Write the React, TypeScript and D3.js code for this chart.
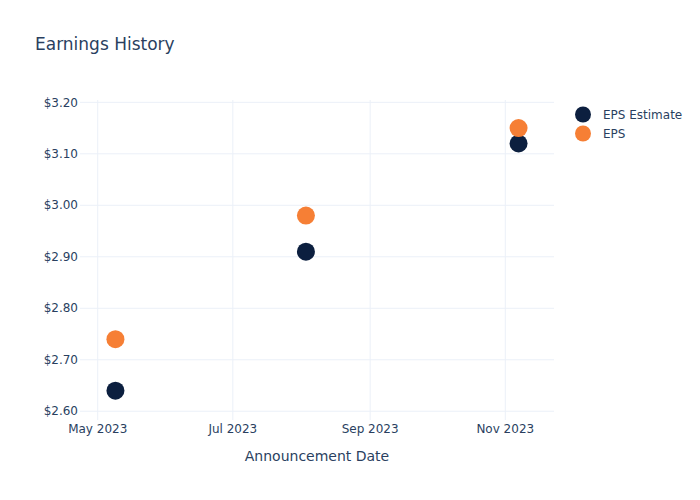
import React from "react";
import * as d3 from "d3";

const dates = ["2023-05-09", "2023-08-03", "2023-11-07"];
const epsEstimate = [2.64, 2.91, 3.12];
const epsActual = [2.74, 2.98, 3.15];
const yTicks = [2.6, 2.7, 2.8, 2.9, 3.0, 3.1, 3.2];
const xTicks = ["2023-05-01", "2023-07-01", "2023-09-01", "2023-11-01"];
const seriesNames = ["EPS Estimate", "EPS"];
const seriesColors = ["#0c1f3f", "#f67f35"];

const W = 700, H = 500;
const plot = { l: 80, r: 554, t: 100, b: 420 };
const font = "'DejaVu Sans', 'Open Sans', sans-serif";
const textColor = "#2a3f5f";

export default function App() {
  const parse = d3.utcParse("%Y-%m-%d");
  const x = d3.scaleUtc()
    .domain([parse("2023-04-23")!, parse("2023-11-23")!])
    .range([plot.l, plot.r]);
  const y = d3.scaleLinear().domain([2.583, 3.2045]).range([plot.b, plot.t]);
  const fmtX = d3.utcFormat("%b %Y");
  const fmtY = (v: number) => "$" + v.toFixed(2);
  const series = [epsEstimate, epsActual];

  return (
    <svg width={W} height={H} style={{ position: "absolute", left: 0, top: 0, background: "#fff" }} fontFamily={font}>
      <rect x={0} y={0} width={W} height={H} fill="#fff" />
      {yTicks.map((t) => (
        <line key={"gy" + t} x1={plot.l} x2={plot.r} y1={y(t)} y2={y(t)} stroke="#ebf0f8" strokeWidth={1} />
      ))}
      {xTicks.map((t) => (
        <line key={"gx" + t} x1={x(parse(t)!)} x2={x(parse(t)!)} y1={plot.t} y2={plot.b} stroke="#ebf0f8" strokeWidth={1} />
      ))}
      {yTicks.map((t) => (
        <text key={"ty" + t} x={plot.l - 2} y={y(t)} dy="0.35em" textAnchor="end" fontSize={12} fill={textColor}>
          {fmtY(t)}
        </text>
      ))}
      {xTicks.map((t) => (
        <text key={"tx" + t} x={x(parse(t)!)} y={plot.b + 13} textAnchor="middle" fontSize={12} fill={textColor}>
          {fmtX(parse(t)!)}
        </text>
      ))}
      <text x={(plot.l + plot.r) / 2} y={461} textAnchor="middle" fontSize={14} fill={textColor}>
        Announcement Date
      </text>
      <text x={35} y={50} fontSize={17} fill={textColor}>Earnings History</text>
      {series.map((vals, si) =>
        vals.map((v, i) => (
          <circle key={si + "-" + i} cx={x(parse(dates[i])!)} cy={y(v)} r={9} fill={seriesColors[si]} />
        ))
      )}
      {seriesNames.map((n, i) => (
        <g key={n} transform={`translate(583, ${114.5 + i * 19})`}>
          <circle cx={0} cy={0} r={8} fill={seriesColors[i]} />
          <text x={20} y={0} dy="0.35em" fontSize={12} fill={textColor}>{n}</text>
        </g>
      ))}
    </svg>
  );
}
